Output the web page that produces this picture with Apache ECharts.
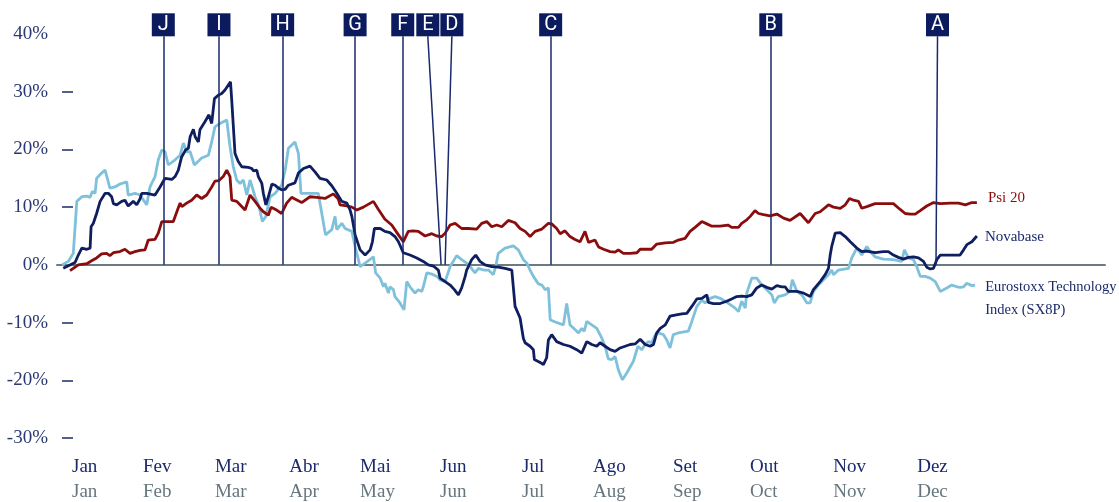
<!DOCTYPE html>
<html>
<head>
<meta charset="utf-8">
<script src="https://cdn.jsdelivr.net/npm/echarts@6/dist/echarts.min.js"></script>
<style>
html,body{margin:0;padding:0;background:#fff;}
#chart{width:1119px;height:502px;}
</style>
</head>
<body>
<div id="chart"></div>
<script>
// x = day of year, y = % change
const monthsPt = ['Jan','Fev','Mar','Abr','Mai','Jun','Jul','Ago','Set','Out','Nov','Dez'];
const monthsEn = ['Jan','Feb','Mar','Apr','May','Jun','Jul','Aug','Sep','Oct','Nov','Dec'];
const monthLabelDays = [4.0,32.3,61.0,90.6,118.9,150.8,183.5,211.8,243.7,274.4,307.6,341.1];
const yTickLabels = [-30,-20,-10,0,10,20,30,40];

const eventNames   = ['J','I','H','G','F','E','D','C','B','A'];
const eventDayTop  = [40.4,62.6,88.0,116.9,135.9,145.9,155.5,194.9,282.7,349.2];
const eventDayBase = [40.4,62.6,88.0,116.9,135.9,151.2,152.8,194.9,282.7,348.6];
const eventTopValue = 39.6;

const novabaseDays = [0.5,5.2,6.5,7.9,9.9,11.2,11.6,12.5,13.8,15.2,17.2,18.5,19.8,20.5,21.8,23.8,25.1,26.4,28.4,29.8,31.1,31.8,33.8,37.1,39.1,41.1,43.8,45.1,46.4,47.7,49.3,50.4,51.1,52.4,53.1,54.4,55.0,57.0,58.6,59.7,60.8,62.3,63.7,65.0,67.2,67.7,69.0,70.3,71.7,74.3,75.7,76.3,77.7,78.3,79.7,80.3,81.3,82.3,83.7,85.0,86.3,87.6,89.0,90.3,92.9,94.3,96.3,98.9,100.9,102.9,105.6,107.6,109.6,111.6,113.6,114.9,115.6,116.9,118.9,120.9,122.9,123.8,124.6,126.9,128.8,130.8,131.5,132.8,134.2,136.1,138.8,141.5,144.1,146.1,148.1,150.1,150.8,152.8,154.8,156.5,158.1,159.4,160.8,161.4,163.4,165.0,166.7,168.7,171.4,174.0,176.7,179.4,180.0,180.7,182.7,184.0,184.7,186.7,188.0,188.4,190.7,192.0,193.3,194.0,195.3,197.3,200.0,202.6,205.3,207.3,209.3,211.3,213.3,214.6,216.6,218.6,220.6,222.6,224.6,226.6,228.6,230.6,232.6,234.6,235.9,237.2,238.6,240.6,242.5,244.5,247.2,249.2,251.2,253.2,255.2,257.2,257.8,259.8,262.5,265.1,267.1,269.1,271.1,273.1,275.1,277.1,279.1,281.1,283.1,285.1,287.1,288.4,289.7,293.1,295.8,298.4,299.7,302.4,304.4,305.7,306.4,307.0,308.4,310.4,312.4,314.4,317.0,319.0,321.0,324.3,327.6,329.6,331.6,333.6,335.6,337.6,339.6,341.6,343.6,344.9,346.3,347.6,348.9,350.3,352.9,355.6,358.2,359.6,360.9,362.9,364.9];
const novabaseValues = [-0.6,0.4,1.7,2.9,2.7,2.9,6.6,7.2,8.9,11.0,12.4,12.4,11.8,10.6,10.4,11.0,11.2,10.2,11.0,10.4,11.4,12.4,12.4,12.1,13.5,15.0,14.8,15.3,16.4,18.7,19.9,20.2,22.2,23.5,22.2,21.3,23.4,24.8,26.0,24.5,28.8,29.4,29.7,30.3,31.7,28.5,19.3,17.9,17.0,16.9,16.7,16.3,16.4,15.3,14.1,12.4,10.4,11.8,14.0,13.8,13.3,13.0,13.1,13.8,14.2,15.9,16.7,17.1,16.1,15.0,14.7,13.7,12.4,11.0,10.7,9.5,8.4,5.2,2.6,1.7,2.6,4.0,6.3,6.3,5.8,5.6,5.8,4.9,4.0,2.1,1.7,1.2,0.6,0.0,-0.2,-0.9,-2.3,-2.9,-3.5,-4.3,-5.2,-4.0,-2.0,-0.9,0.9,1.7,0.6,0.0,-0.3,-0.4,-0.6,-0.9,-3.8,-7.2,-9.2,-12.7,-13.5,-14.1,-14.7,-16.4,-16.9,-17.3,-16.1,-13.0,-12.1,-13.3,-13.8,-14.1,-14.7,-15.3,-13.3,-13.8,-14.1,-13.5,-14.1,-14.7,-15.0,-14.4,-14.1,-13.8,-13.7,-12.9,-13.8,-14.1,-13.8,-11.8,-11.0,-10.4,-8.9,-8.7,-8.5,-8.4,-7.2,-5.9,-5.8,-5.2,-6.5,-6.7,-6.7,-6.3,-5.9,-5.5,-5.4,-5.5,-5.2,-4.0,-3.5,-3.9,-4.2,-3.6,-3.8,-3.8,-4.6,-4.6,-4.9,-5.5,-4.3,-2.9,-1.7,-0.6,1.7,3.2,5.5,5.6,4.9,4.0,2.9,2.3,2.4,2.1,2.3,2.3,1.7,1.3,1.0,1.3,1.4,1.2,0.6,-0.4,-0.7,-0.6,0.9,1.7,1.7,1.7,1.7,2.6,3.5,4.0,5.0];

const sx8pDays = [0.0,2.5,4.5,5.9,7.9,9.9,11.2,12.1,13.2,13.8,15.8,17.2,19.1,21.1,23.1,25.8,26.4,29.1,31.1,33.8,35.1,37.1,38.4,39.8,41.1,42.4,45.1,47.1,48.4,49.7,51.1,52.8,55.7,58.4,59.7,61.0,63.0,65.7,67.0,68.3,69.7,71.0,72.3,73.7,75.0,77.0,78.6,79.9,81.3,83.0,85.0,87.6,89.0,90.3,92.9,94.3,95.3,96.9,102.2,105.1,107.6,108.9,109.6,111.6,112.9,115.6,116.9,118.9,120.9,124.2,125.1,126.9,128.2,128.8,130.2,130.8,132.2,132.8,134.8,136.4,137.5,138.8,139.5,140.8,142.1,143.5,144.1,145.5,147.5,149.5,150.8,152.8,154.8,157.4,159.4,161.4,162.8,164.7,166.1,168.1,170.1,172.0,173.0,174.0,176.7,180.0,182.0,184.0,185.4,186.7,188.0,190.0,191.4,192.7,194.0,194.7,196.7,200.0,201.3,202.6,204.6,206.0,207.3,208.3,209.3,211.3,213.3,215.3,216.6,217.9,219.3,220.6,221.9,223.5,225.3,227.9,229.7,231.2,232.6,233.9,235.2,236.6,237.9,239.9,241.2,242.5,243.8,245.8,249.8,251.2,253.2,255.2,256.5,258.5,260.5,262.5,264.5,266.5,268.5,269.8,271.1,272.5,273.1,275.1,277.1,279.1,281.1,283.1,284.1,285.7,288.4,290.4,291.3,293.1,295.1,297.1,298.4,299.7,301.7,303.7,305.7,307.0,307.7,309.7,313.7,315.0,317.0,319.0,321.0,322.3,324.3,327.6,331.6,334.9,336.0,337.6,339.6,340.9,342.3,344.3,346.3,348.3,350.3,352.9,354.9,356.9,358.2,359.6,360.9,362.9,364.2];
const sx8pValues = [0.0,0.6,2.0,11.0,11.8,11.9,11.7,12.7,12.4,15.0,15.9,16.4,13.3,13.5,14.0,14.4,12.1,12.4,12.1,10.4,13.5,15.3,18.2,19.9,19.6,17.3,18.2,19.0,21.1,19.6,19.6,17.3,18.5,19.0,21.3,23.9,24.5,25.1,20.5,17.0,14.7,14.1,14.7,12.1,14.7,11.8,10.1,7.5,8.4,11.8,12.4,13.8,16.4,20.2,21.3,19.3,12.4,12.4,12.4,5.2,6.1,8.4,6.1,7.2,6.3,5.8,3.2,-0.3,0.3,1.4,-1.4,-2.3,-3.8,-3.2,-4.9,-3.8,-4.3,-5.5,-6.6,-7.8,-2.9,-3.8,-3.5,-4.9,-4.3,-4.6,-3.8,-1.4,-1.6,-2.0,-2.6,-2.9,-0.3,1.6,0.9,0.3,-0.3,-1.4,-0.6,-0.9,-0.9,-1.7,-0.3,2.0,2.9,3.3,2.6,0.9,0.3,-0.9,-2.0,-3.3,-3.5,-4.3,-4.0,-9.5,-9.9,-10.4,-6.7,-10.4,-11.2,-11.8,-11.0,-11.5,-9.8,-10.4,-11.0,-12.7,-14.1,-16.3,-16.4,-15.9,-18.2,-19.9,-18.7,-16.7,-14.1,-14.7,-13.8,-13.3,-13.5,-12.1,-11.8,-12.1,-13.0,-14.4,-12.1,-11.8,-11.5,-9.8,-7.2,-6.1,-6.6,-5.8,-5.5,-5.8,-6.3,-6.9,-7.5,-8.1,-6.3,-7.5,-4.9,-2.3,-2.3,-3.5,-4.3,-5.2,-6.6,-5.5,-5.2,-4.6,-2.6,-4.6,-5.2,-6.6,-6.6,-4.6,-3.5,-2.6,-1.7,-0.9,-1.7,-0.9,-0.6,1.2,2.9,1.7,3.2,2.3,1.4,1.0,0.9,0.6,2.6,1.2,0.9,-0.3,-2.0,-2.0,-2.3,-2.9,-4.6,-4.0,-3.5,-3.8,-3.9,-3.8,-3.2,-3.6,-3.5];

const psiDays = [3.2,6.5,9.9,11.8,13.8,15.8,17.8,19.1,20.5,23.1,25.1,27.1,29.1,31.1,33.1,34.4,37.1,38.4,39.8,41.8,44.4,45.8,47.1,47.8,49.7,51.7,53.7,55.7,57.7,59.7,61.0,62.6,64.3,65.7,67.0,67.7,69.7,71.0,73.0,75.0,77.0,79.0,80.3,82.3,83.4,85.6,87.6,89.6,91.6,92.9,95.6,98.9,101.6,104.9,108.2,110.2,110.9,113.6,115.6,117.6,120.2,124.2,126.2,128.8,131.5,134.2,136.1,138.1,140.1,142.1,144.8,147.5,149.5,151.5,152.8,154.8,156.8,159.4,162.1,165.4,167.4,169.4,171.4,173.4,175.4,178.0,180.7,182.7,184.7,186.7,188.7,191.4,194.0,195.3,197.3,198.7,200.6,202.6,204.6,206.6,208.6,210.0,212.6,214.0,216.0,218.6,220.6,221.9,223.9,226.6,229.3,230.6,235.2,237.2,240.6,243.9,245.8,248.5,250.5,252.5,255.2,257.2,259.2,262.5,265.6,267.1,269.8,271.1,273.1,274.5,276.4,277.8,279.8,282.4,285.1,287.8,290.4,294.4,297.7,300.4,302.4,305.7,307.7,310.4,312.4,314.1,315.7,317.7,319.0,321.0,324.3,327.6,331.6,334.3,336.3,338.3,340.3,342.3,344.9,347.6,350.3,354.3,357.6,360.3,362.9,364.9];
const psiValues = [-1.0,0.0,0.2,0.7,1.2,1.9,2.0,1.6,2.1,2.3,2.7,2.0,2.3,2.5,2.6,4.3,4.4,5.5,7.5,7.5,7.5,9.2,10.7,10.1,10.7,11.2,12.1,11.5,12.1,13.5,14.5,14.6,15.3,16.4,15.3,11.2,11.0,10.4,9.5,12.1,11.0,9.8,9.2,8.6,10.0,9.5,8.9,10.7,11.7,11.4,10.8,11.8,11.7,11.5,12.3,11.4,10.4,10.2,10.0,9.5,10.0,11.0,9.6,7.9,6.9,5.2,4.0,5.8,5.9,5.8,5.0,5.4,5.0,4.9,5.5,6.9,7.2,6.3,6.3,6.2,7.2,7.5,6.6,6.9,6.6,7.7,7.3,6.3,5.8,4.9,5.8,6.2,7.2,7.1,6.3,5.4,5.9,4.9,4.4,4.0,5.8,3.9,4.3,3.1,2.7,2.3,2.2,2.6,2.0,2.0,2.1,2.7,2.7,3.6,3.8,3.9,4.3,4.6,5.8,6.5,7.5,7.1,6.7,6.7,6.9,6.5,6.5,7.2,7.8,8.4,9.4,8.9,8.7,8.5,8.8,8.1,7.7,8.9,7.3,8.9,9.2,10.4,10.0,9.8,10.4,11.5,11.2,11.0,9.8,10.1,10.6,10.6,10.6,9.6,8.9,8.8,8.8,9.4,10.2,10.8,10.6,10.7,10.7,10.4,10.8,10.8];

const NAVY = '#0e1e5f';
const LIGHT = '#7fc0db';
const RED = '#8a0d0e';
const SERIF = '"Liberation Serif", "DejaVu Serif", serif';

const zip = (xs, ys) => xs.map((x, i) => [x, ys[i]]);

const markerLines = eventNames.map((n, i) => [
  { name: n, coord: [eventDayBase[i], 0] },
  { coord: [eventDayTop[i], eventTopValue] }
]);

const chart = echarts.init(document.getElementById('chart'), null, { renderer: 'canvas' });
chart.setOption({
  animation: false,
  backgroundColor: '#ffffff',
  grid: { left: 57, right: 14, top: 34, bottom: 64, containLabel: false },
  xAxis: [
    {
      type: 'value', min: -2, max: 416,
      axisLine: { show: true, onZero: true, lineStyle: { color: '#6b7b83', width: 2 } },
      axisTick: { show: false }, axisLabel: { show: false }, splitLine: { show: false }
    },
    {
      type: 'value', min: -2, max: 416, position: 'bottom',
      axisLine: { show: false, onZero: false }, axisTick: { show: false }, splitLine: { show: false },
      axisLabel: {
        show: true, customValues: monthLabelDays, align: 'left', margin: 17,
        formatter: v => {
          const i = monthLabelDays.indexOf(v);
          return i < 0 ? '' : '{pt|' + monthsPt[i] + '}\n{en|' + monthsEn[i] + '}';
        },
        rich: {
          pt: { fontFamily: SERIF, fontSize: 19, color: '#1c2a6b', lineHeight: 25, align: 'left' },
          en: { fontFamily: SERIF, fontSize: 19, color: '#66767e', lineHeight: 25, align: 'left' }
        }
      }
    }
  ],
  yAxis: {
    type: 'value', min: -30, max: 40, interval: 10, offset: -4,
    axisLine: { show: false },
    axisTick: { show: true, inside: true, length: 11, customValues: [-30,-20,-10,10,20,30], lineStyle: { color: '#1c2a6b', width: 1.5 } },
    splitLine: { show: false },
    axisLabel: {
      show: true, customValues: yTickLabels, margin: 13,
      formatter: v => v + '%',
      fontFamily: SERIF, fontSize: 19, color: '#2a3873'
    }
  },
  series: [
    {
      name: 'events', type: 'line', data: [], z: 1, silent: true,
      markLine: {
        silent: true, symbol: ['none', 'none'], animation: false,
        lineStyle: { color: '#1a2a6c', width: 1.5, type: 'solid' },
        label: {
          show: true, position: 'end', distance: 0, formatter: '{b}',
          backgroundColor: '#0b1b5e', color: '#ffffff',
          fontFamily: 'Roboto, "DejaVu Sans", sans-serif', fontSize: 20,
          width: 23, height: 23, lineHeight: 23, align: 'center', verticalAlign: 'bottom', padding: 0
        },
        emphasis: { disabled: true },
        data: markerLines
      }
    },
    {
      name: 'Psi 20', type: 'line', data: zip(psiDays, psiValues), z: 3,
      symbol: 'none', lineStyle: { color: RED, width: 2.8 }, itemStyle: { color: RED },
      endLabel: { show: true, formatter: 'Psi 20', color: RED, fontFamily: SERIF, fontSize: 15, distance: 11, offset: [0, -4] }
    },
    {
      name: 'Eurostoxx Technology Index (SX8P)', type: 'line', data: zip(sx8pDays, sx8pValues), z: 2,
      symbol: 'none', lineStyle: { color: LIGHT, width: 2.8 }, itemStyle: { color: LIGHT },
      endLabel: { show: true, formatter: 'Eurostoxx Technology\nIndex (SX8P)', color: '#1c2a6b', fontFamily: SERIF, fontSize: 14.5, lineHeight: 23, distance: 10, offset: [0, 14] }
    },
    {
      name: 'Novabase', type: 'line', data: zip(novabaseDays, novabaseValues), z: 4,
      symbol: 'none', lineStyle: { color: NAVY, width: 2.8 }, itemStyle: { color: NAVY },
      endLabel: { show: true, formatter: 'Novabase', color: '#1c2a6b', fontFamily: SERIF, fontSize: 15, distance: 8, offset: [0, 1] }
    }
  ]
});
</script>
</body>
</html>
